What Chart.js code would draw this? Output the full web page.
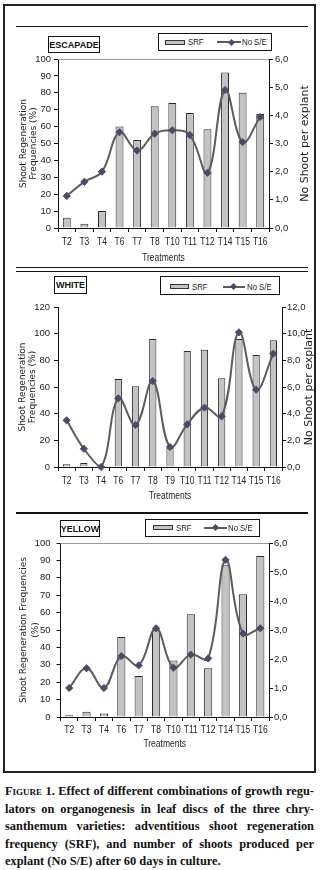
<!DOCTYPE html>
<html>
<head>
<meta charset="utf-8">
<script src="https://cdn.jsdelivr.net/npm/chart.js@4.4.0/dist/chart.umd.min.js"></script>
<style>
html, body { margin: 0; padding: 0; background: #fff; }
#page { position: relative; width: 322px; height: 870px; overflow: hidden; }
.frame { position: absolute; left: 3px; top: 3.5px; width: 312.5px; height: 769.5px; box-sizing: border-box; border: 2px solid #222; }
.hl { position: absolute; left: 16px; width: 292px; background: #111; }
canvas { position: absolute; left: 4px; }
.tbox { position: absolute; box-sizing: border-box; border: 1px solid #111; background: #fff;
        font: bold 9px 'Liberation Sans', Arial, sans-serif; color: #111;
        display: flex; align-items: center; justify-content: center; z-index: 2; }
.lbox { position: absolute; box-sizing: border-box; border: 1px solid #111; background: #fff; z-index: 2; }
.ltxt { position: absolute; font: 9.5px 'Liberation Sans', Arial, sans-serif; color: #222; z-index: 3; line-height: 10px;
        transform: scaleX(0.82); transform-origin: 0 50%; white-space: nowrap; }
.sw { position: absolute; box-sizing: border-box; background: #c3c3c3; border: 1px solid #333; z-index: 3; }
.ln { position: absolute; height: 2px; background: #5c5c5c; z-index: 3; }
.dia { position: absolute; width: 5px; height: 5px; background: #4a4a6c; transform: rotate(45deg); z-index: 4; }
#caption { position: absolute; left: 5px; top: 783px; width: 309px;
           font: bold 12.4px 'Liberation Serif', 'Times New Roman', serif; line-height: 17.5px; color: #111; }
.j { text-align: justify; text-align-last: justify; }
.sc { font-variant: small-caps; }
</style>
</head>
<body>
<div id="page">
  <div class="frame"></div>
  <div class="hl" style="top:26px;height:1px"></div>
  <div class="hl" style="top:267px;height:1px"></div>
  <div class="hl" style="top:271px;height:1px"></div>
  <div class="hl" style="top:511.5px;height:2px"></div>

  <canvas id="c1" width="310" height="238" style="top:28px"></canvas>
  <canvas id="c2" width="310" height="236" style="top:274px"></canvas>
  <canvas id="c3" width="310" height="255" style="top:515px"></canvas>

  <div id="caption">
    <div class="j"><span class="sc">Figure</span> 1. Effect of different combinations of growth regu-</div>
    <div class="j">lators on organogenesis in leaf discs of the three chry-</div>
    <div class="j">santhemum varieties: adventitious shoot regeneration</div>
    <div class="j">frequency (SRF), and number of shoots produced per</div>
    <div>explant (No S/E) after 60 days in culture.</div>
  </div>
</div>

<script>
// ESCAPADE
const escapadeTreatments = ['T2', 'T3', 'T4', 'T6', 'T7', 'T8', 'T10', 'T11', 'T12', 'T14', 'T15', 'T16'];
const escapadeSRF = [6, 2.5, 10, 60, 52, 72, 74, 68, 58.5, 92, 80, 67.5];
const escapadeShoots = [1.14, 1.64, 2.0, 3.4, 2.75, 3.35, 3.47, 3.3, 1.96, 4.9, 3.05, 3.94];

// WHITE
const whiteTreatments = ['T2', 'T3', 'T4', 'T6', 'T7', 'T8', 'T9', 'T10', 'T11', 'T12', 'T14', 'T15', 'T16'];
const whiteSRF = [2, 3, 0, 66, 60.5, 96, 14.5, 87, 88, 66.5, 96, 84, 95];
const whiteShoots = [3.5, 1.37, 0, 5.15, 3.15, 6.45, 1.5, 3.2, 4.45, 3.8, 10.1, 5.8, 8.5];

// YELLOW
const yellowTreatments = ['T2', 'T3', 'T4', 'T6', 'T7', 'T8', 'T10', 'T11', 'T12', 'T14', 'T15', 'T16'];
const yellowSRF = [1, 3, 2, 46, 23.5, 50, 32.5, 59, 28, 87.5, 70.5, 92.5];
const yellowShoots = [1.0, 1.68, 1.0, 2.1, 1.78, 3.06, 1.7, 2.15, 2.02, 5.42, 2.88, 3.06];

const seriesNames = ['SRF', 'No S/E'];
const xTitle = 'Treatments';
const rightTitle = 'No Shoot per explant';

Chart.defaults.font.family = "'Liberation Sans', Arial, sans-serif";
Chart.defaults.color = '#222';

const fmtComma = v => v.toFixed(1).replace('.', ',');

// the scanned figure has narrow horizontal labels; squeeze centred, unrotated text a little
function condenseCentredText(canvas, factor) {
    const ctx = canvas.getContext('2d');
    const fill = ctx.fillText.bind(ctx);
    ctx.fillText = function (text, x, y, maxWidth) {
        const m = ctx.getTransform();
        if (ctx.textAlign !== 'center' || Math.abs(m.b) > 1e-6) return fill(text, x, y, maxWidth);
        ctx.save();
        ctx.translate(x, y);
        ctx.scale(factor, 1);
        fill(text, 0, 0, maxWidth);
        ctx.restore();
    };
}

// top border of plot area + right axis title read bottom-to-top
const panelExtras = {
    id: 'panelExtras',
    afterDraw(chart, args, opts) {
        const {ctx, chartArea: a} = chart;
        ctx.save();
        if (opts.topLine) {
            ctx.strokeStyle = '#9a9a9a';
            ctx.lineWidth = 1;
            ctx.beginPath();
            ctx.moveTo(a.left, a.top + 0.5);
            ctx.lineTo(a.right, a.top + 0.5);
            ctx.stroke();
        }
        if (opts.rightTitle) {
            ctx.font = "11px 'DejaVu Sans', Verdana, sans-serif";
            ctx.fillStyle = '#222';
            ctx.translate(opts.rightTitleX, (a.top + a.bottom) / 2 + (opts.rightTitleDy || 0));
            ctx.rotate(-Math.PI / 2);
            ctx.textAlign = 'center';
            ctx.textBaseline = 'middle';
            ctx.fillText(opts.rightTitle, 0, 0);
        }
        ctx.restore();
    }
};

function makePanel(id, p) {
    const canvas = document.getElementById(id);
    condenseCentredText(canvas, 0.85);
    return new Chart(canvas, {
        type: 'bar',
        data: {
            labels: p.labels,
            datasets: [{
                type: 'line',
                label: seriesNames[1],
                data: p.shoots,
                yAxisID: 'y1',
                order: 0,
                borderColor: '#5c5c5c',
                borderWidth: 2,
                tension: 0.4,
                clip: false,
                pointStyle: 'rectRot',
                pointRadius: 3.6,
                pointBackgroundColor: '#4a4a6c',
                pointBorderColor: '#4a4a6c',
                pointBorderWidth: 1
            }, {
                type: 'bar',
                label: seriesNames[0],
                data: p.srf,
                yAxisID: 'y',
                order: 1,
                backgroundColor: '#c3c3c3',
                borderColor: '#2a2a2a',
                borderWidth: 1,
                categoryPercentage: 1,
                barPercentage: p.barPct
            }]
        },
        options: {
            responsive: false,
            animation: false,
            devicePixelRatio: 1,
            layout: { padding: { top: p.padTop, left: 0, right: 0, bottom: 0 } },
            plugins: {
                legend: { display: false },
                tooltip: { enabled: false },
                panelExtras: { topLine: p.topLine, rightTitle: p.rightTitle, rightTitleX: p.rightTitleX }
            },
            scales: {
                x: {
                    grid: { drawOnChartArea: false, tickLength: 4, color: '#111', offset: true },
                    border: { color: '#111', width: 1 },
                    ticks: { font: { size: 10 }, color: '#222', padding: p.xTickPad, autoSkip: false, maxRotation: 0 },
                    title: { display: true, text: xTitle, font: { size: 10 }, color: '#222', padding: { top: 0, bottom: p.xTitlePad } },
                    afterFit: s => { s.height = p.xHeight; }
                },
                y: {
                    position: 'left',
                    min: 0, max: p.yMax,
                    ticks: { stepSize: p.yStep, padding: p.yTickPad, font: { size: 9.5 }, color: '#222' },
                    grid: { drawOnChartArea: false, tickLength: 4, color: '#111' },
                    border: { color: '#111', width: 1 },
                    title: { display: true, text: p.yTitle, color: '#222',
                             font: { family: "'DejaVu Sans', Verdana, sans-serif", size: 9, lineHeight: p.yTitleLH },
                             padding: { top: p.yTitlePad, bottom: 0 } },
                    afterFit: s => { s.width = p.yWidth; }
                },
                y1: {
                    position: 'right',
                    min: 0, max: p.y1Max,
                    ticks: { stepSize: p.y1Step, padding: p.y1TickPad, font: { size: 9.5 }, color: '#222', callback: v => fmtComma(v) },
                    grid: { drawOnChartArea: false, tickLength: 4, color: '#111' },
                    border: { color: '#111', width: 1 },
                    afterFit: s => { s.width = p.y1Width; }
                }
            }
        },
        plugins: [panelExtras]
    });
}

makePanel('c1', {
    labels: escapadeTreatments, srf: escapadeSRF, shoots: escapadeShoots,
    barPct: 0.45, padTop: 31, xHeight: 38, xTickPad: 4.5, xTitlePad: 2,
    yMax: 100, yStep: 10, yTickPad: 3, yWidth: 54,
    yTitle: ['Shoot Regeneration', 'Frequencies (%)'], yTitleLH: 1.15, yTitlePad: 14,
    y1Max: 6, y1Step: 1, y1TickPad: 2, y1Width: 45,
    topLine: true, rightTitle: rightTitle, rightTitleX: 301
});

makePanel('c2', {
    labels: whiteTreatments, srf: whiteSRF, shoots: whiteShoots,
    barPct: 0.42, padTop: 33, xHeight: 43, xTickPad: 4.5, xTitlePad: 8,
    yMax: 120, yStep: 20, yTickPad: 4, yWidth: 54,
    yTitle: ['Shoot Regeneration', 'Frequencies (%)'], yTitleLH: 1.15, yTitlePad: 13,
    y1Max: 12, y1Step: 2, y1TickPad: 1, y1Width: 32,
    topLine: false, rightTitle: rightTitle, rightTitleX: 305.5
});

makePanel('c3', {
    labels: yellowTreatments, srf: yellowSRF, shoots: yellowShoots,
    barPct: 0.47, padTop: 28, xHeight: 53, xTickPad: 3.5, xTitlePad: 20,
    yMax: 100, yStep: 10, yTickPad: 6, yWidth: 56.5,
    yTitle: ['Shoot Regeneration Frequencies', '(%)'], yTitleLH: 1.33, yTitlePad: 14,
    y1Max: 6, y1Step: 1, y1TickPad: 1, y1Width: 45,
    topLine: true, rightTitle: null, rightTitleX: 0
});

// variety boxes and legends (page coordinates)
const varietyBoxes = [
    { text: 'ESCAPADE', x: 48, y: 36, w: 52, h: 17 },
    { text: 'WHITE', x: 54, y: 276, w: 33, h: 18 },
    { text: 'YELLOW', x: 60, y: 520, w: 40, h: 17 }
];
const legendBoxes = [
    { x: 158, y: 33, w: 114, h: 18, cy: 42, sw: [165, 20], t1: 188, ln: [217, 241], dia: 231, t2: 242 },
    { x: 160, y: 276, w: 120, h: 19, cy: 286.5, sw: [170, 18.5], t1: 191.5, ln: [223, 245], dia: 233, t2: 246.5 },
    { x: 145, y: 519, w: 115, h: 18, cy: 527.5, sw: [152.5, 20], t1: 176, ln: [204, 227], dia: 215, t2: 228 }
];

const page = document.getElementById('page');
function add(cls, style, text) {
    const d = document.createElement('div');
    d.className = cls;
    Object.assign(d.style, style);
    if (text) d.textContent = text;
    page.appendChild(d);
    return d;
}
varietyBoxes.forEach(b => add('tbox', { left: b.x + 'px', top: b.y + 'px', width: b.w + 'px', height: b.h + 'px' }, b.text));
legendBoxes.forEach(l => {
    add('lbox', { left: l.x + 'px', top: l.y + 'px', width: l.w + 'px', height: l.h + 'px' });
    add('sw', { left: l.sw[0] + 'px', top: (l.cy - 2.5) + 'px', width: l.sw[1] + 'px', height: '5px' });
    add('ltxt', { left: l.t1 + 'px', top: (l.cy - 5) + 'px' }, seriesNames[0]);
    add('ln', { left: l.ln[0] + 'px', top: (l.cy - 1) + 'px', width: (l.ln[1] - l.ln[0]) + 'px' });
    add('dia', { left: (l.dia - 2.5) + 'px', top: (l.cy - 2.5) + 'px' });
    add('ltxt', { left: l.t2 + 'px', top: (l.cy - 5) + 'px' }, seriesNames[1]);
});
</script>
</body>
</html>
